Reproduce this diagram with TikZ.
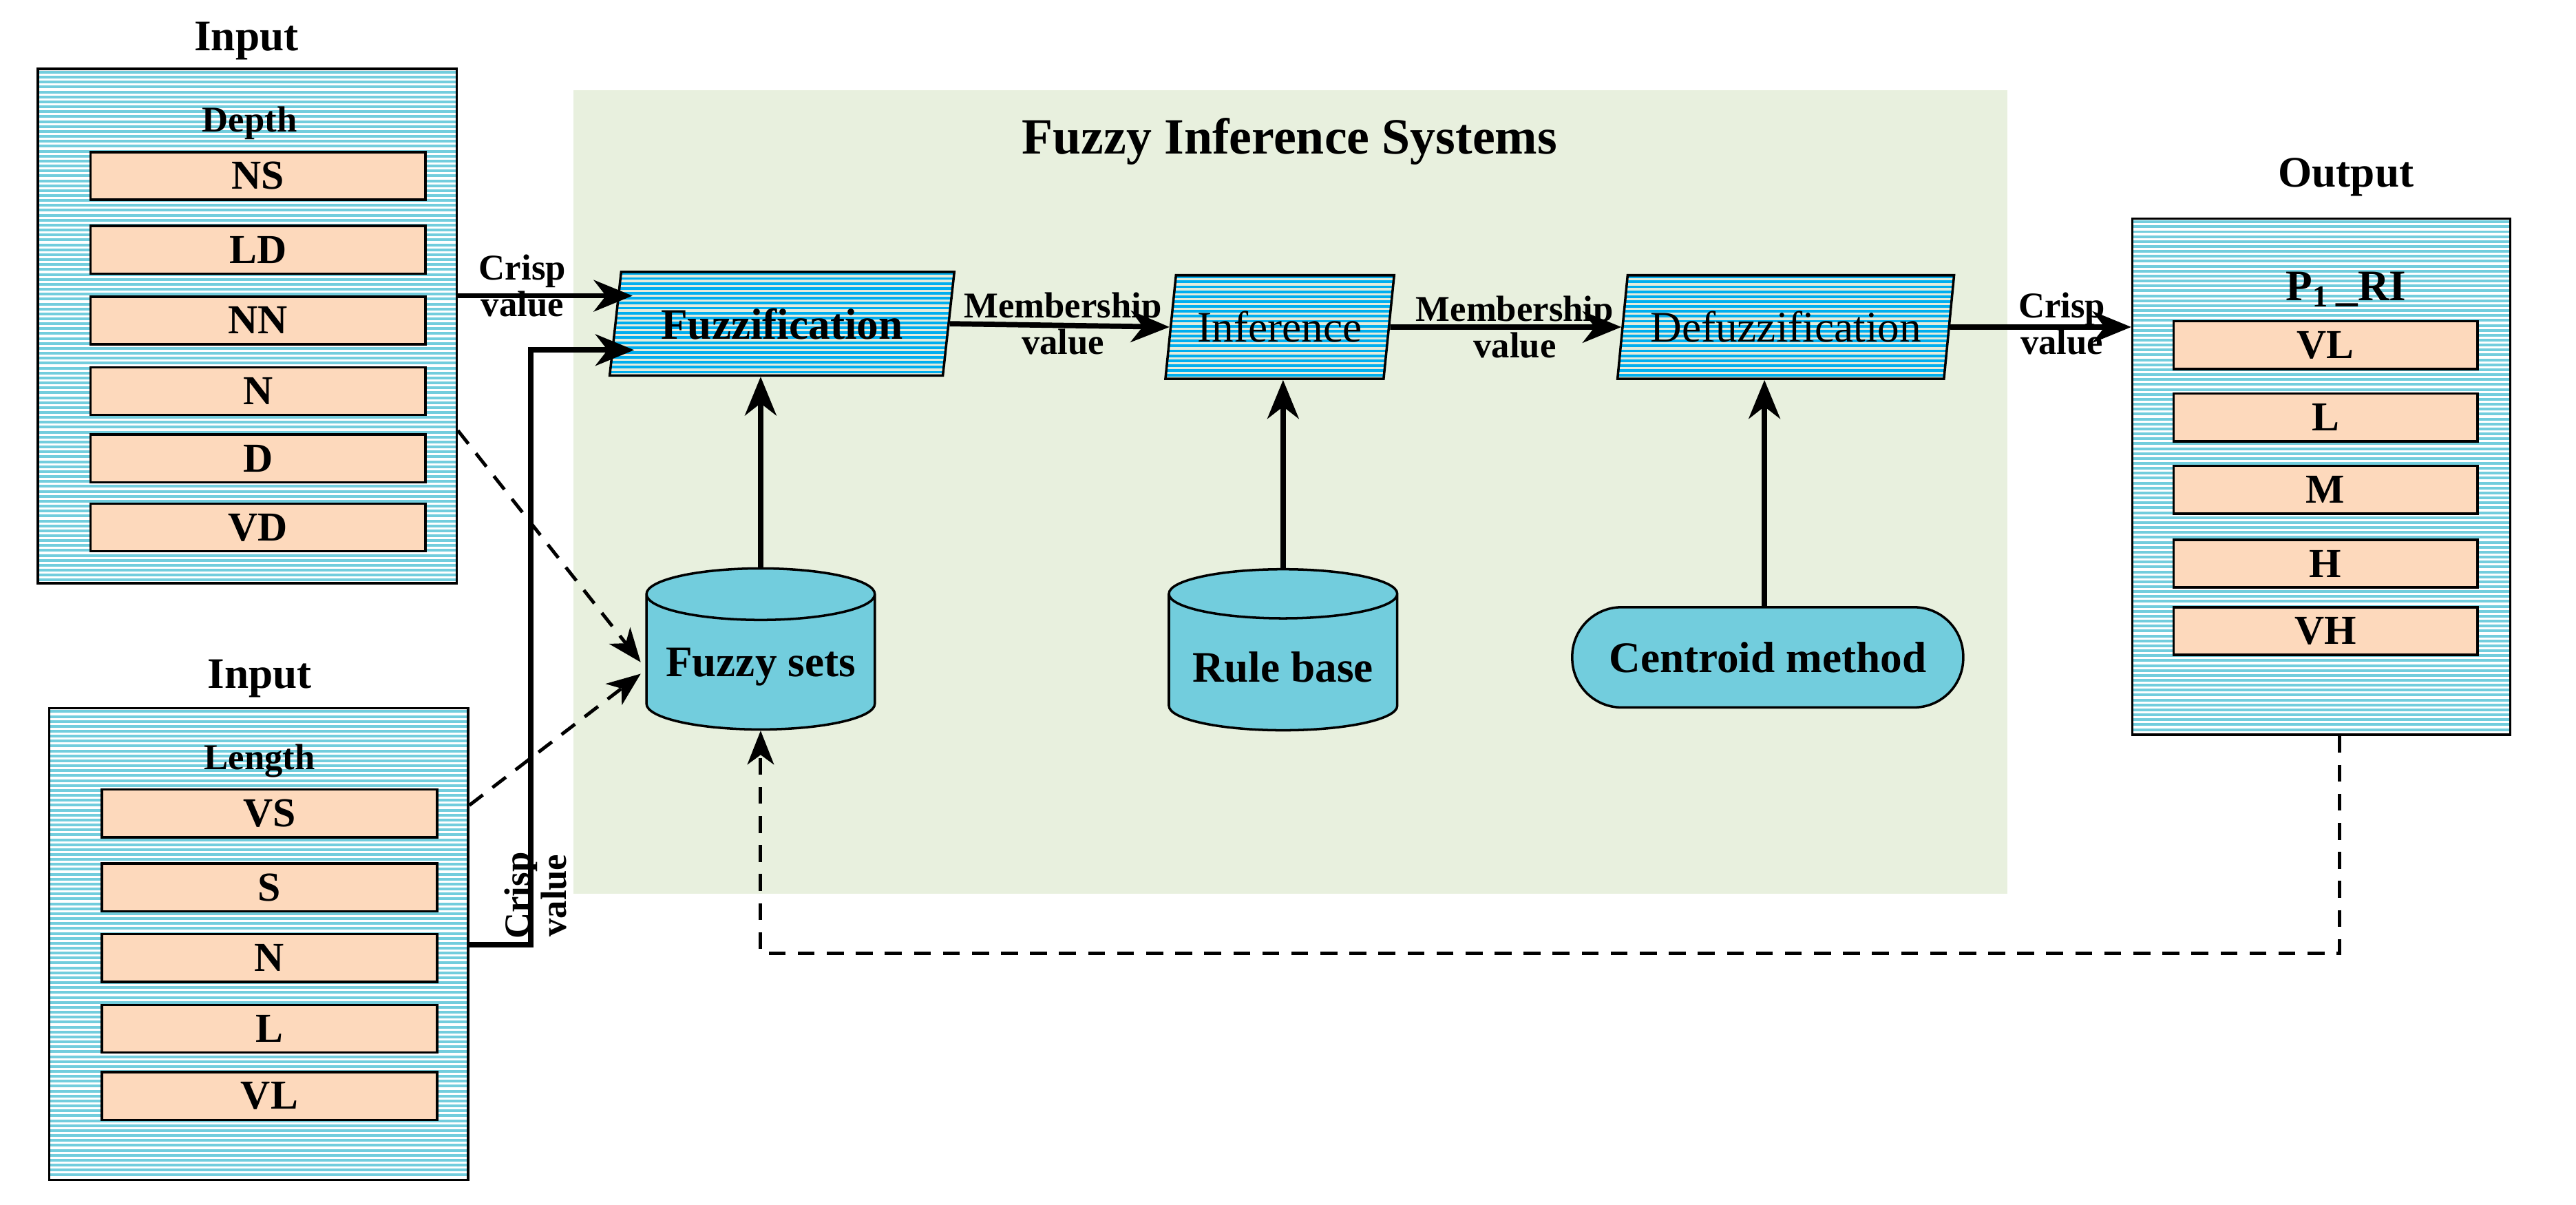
\documentclass[tikz,border=0pt]{standalone}
\usepackage{fontspec}
\setmainfont{Liberation Serif}
\usetikzlibrary{shapes.geometric,arrows.meta}
\def\u{0.023865cm}
\definecolor{stripe}{HTML}{72CDDD}
\definecolor{peach}{HTML}{FDD9BC}
\definecolor{bgg}{HTML}{E8F0DE}
\definecolor{cyl}{HTML}{72CDDD}
\definecolor{pblue}{HTML}{00AEEF}
\definecolor{pbg}{HTML}{E4ECDC}
\tikzset{
 stripes/.style={fill=stripe, path picture={\foreach \k in {0,...,110}{\draw[white,line width=0.9pt] ([yshift=-\k*3*\u-0.5*\u]path picture bounding box.north west) -- ++(20cm,0);}}},
 pstripes/.style={fill=pbg, path picture={\foreach \k in {0,...,25}{\draw[pblue,line width=1.1pt] ([yshift=-\k*3*\u-1*\u]path picture bounding box.north west) -- ++(20cm,0);}}},
 panel/.style={draw,line width=1pt,stripes,minimum width=#1},
 item/.style={draw,line width=1pt,fill=peach,minimum width=#1,minimum height=29*\u,font=\fontsize{17}{20}\selectfont\bfseries,inner sep=0pt},
 lbl/.style={font=\fontsize{18}{20}\selectfont\bfseries},
 small/.style={font=\fontsize{15}{15}\selectfont\bfseries,align=center,inner sep=0pt},
 proc/.style={trapezium,trapezium left angle=79,trapezium right angle=101,trapezium stretches=true,draw,line width=1pt,pstripes,minimum width=#1,minimum height=63*\u,font=\fontsize{18}{20}\selectfont},
 db/.style={cylinder,shape border rotate=90,aspect=0.25,draw,line width=1pt,fill=cyl,minimum width=139*\u,minimum height=98*\u,font=\fontsize{18}{20}\selectfont\bfseries},
 arr/.style={line width=2.2pt,-{Stealth[length=16pt,width=13pt,inset=5pt]}},
 darr/.style={line width=1.4pt,dash pattern=on 7pt off 5pt,-{Stealth[length=14pt,width=11pt,inset=4pt]}},
}
\begin{document}
\begin{tikzpicture}[x=\u,y=-\u]
\useasboundingbox (0,0) rectangle (1568,733);
\fill[bgg] (349,55) rectangle (1222,544);
\node[font=\fontsize{21}{24}\selectfont\bfseries] (title) at (785,86) {Fuzzy Inference Systems};
% depth input
\node[lbl] (in1) at (150,25) {Input};
\node[panel=255*\u,minimum height=313*\u] (depth) at (150.5,198.5) {};
\node[font=\fontsize{15}{18}\selectfont\bfseries] (dl) at (152,75) {Depth};
\foreach \t/\y/\n in {NS/107/a,LD/152/b,NN/195/c,N/238/d,D/279/e,VD/321/f}
  \node[item=204*\u] (d\n) at (157,\y) {\t};
% length input
\node[lbl] (in2) at (158,413) {Input};
\node[panel=255*\u,minimum height=287*\u] (len) at (157.5,574.5) {};
\node[font=\fontsize{15}{18}\selectfont\bfseries] (ll) at (158,463) {Length};
\foreach \t/\y/\n in {VS/495/a,S/540/b,N/583/c,L/626/d,VL/667/e}
  \node[item=204*\u] (l\n) at (164,\y) {\t};
% output
\node[lbl] (out) at (1428,108) {Output};
\node[panel=230*\u,minimum height=314*\u] (outp) at (1413,290) {};
\node[font=\fontsize{18}{20}\selectfont\bfseries] (pri) at (1428,176) {P\textsubscript{1}\,\_RI};
\foreach \t/\y/\n in {VL/210/a,L/254/b,M/298/c,H/343/d,VH/384/e}
  \node[item=185*\u] (o\n) at (1415.5,\y) {\t};
% processes
\node[proc=210*\u,font=\fontsize{18}{20}\selectfont\bfseries] (fuz) at (476,197) {Fuzzification};
\node[proc=140*\u] (inf) at (779,199) {Inference};
\node[proc=205*\u] (def) at (1087,199) {Defuzzification};
\node[db] (fs) at (463,406) {Fuzzy sets};
\node[db] (rb) at (781,406) {Rule base};
\node[draw,line width=1pt,fill=cyl,rounded corners=30*\u,minimum width=238*\u,minimum height=61*\u,font=\fontsize{18}{20}\selectfont\bfseries] (cm) at (1076,400) {Centroid method};
% arrows
\coordinate (c1) at (323,575);
\draw[arr] (depth.east |- 0,180) -- (385,180);
\node[small] (cv1) at (318,174) {Crisp\\value};
\draw[arr] (len.east |- c1) -- (c1) |- (386,213);
\node[small,rotate=90] (cv2) at (326,545) {Crisp\\value};
\draw[arr] (fuz.east) -- (inf.west);
\node[small] (mv1) at (647,197) {Membership\\value};
\draw[arr] (inf.east) -- (def.west);
\node[small] (mv2) at (922,199) {Membership\\value};
\draw[arr] (def.east) -- (outp.west |- def.east);
\node[small] (cv3) at (1255,197) {Crisp\\value};
\draw[arr] (fs.top) -- (fuz.south -| fs.top);
\draw[arr] (rb.top) -- (inf.south -| rb.top);
\draw[arr] (cm.north -| 1074,0) -- (def.south -| 1074,0);
\draw[darr] (depth.east |- 0,262) -- (390,403);
\draw[darr] (len.east |- 0,490) -- (390,410);
\draw[darr] (outp.south -| 1424,0) -- (1424,580) -| (fs.bottom);
\end{tikzpicture}
\end{document}
